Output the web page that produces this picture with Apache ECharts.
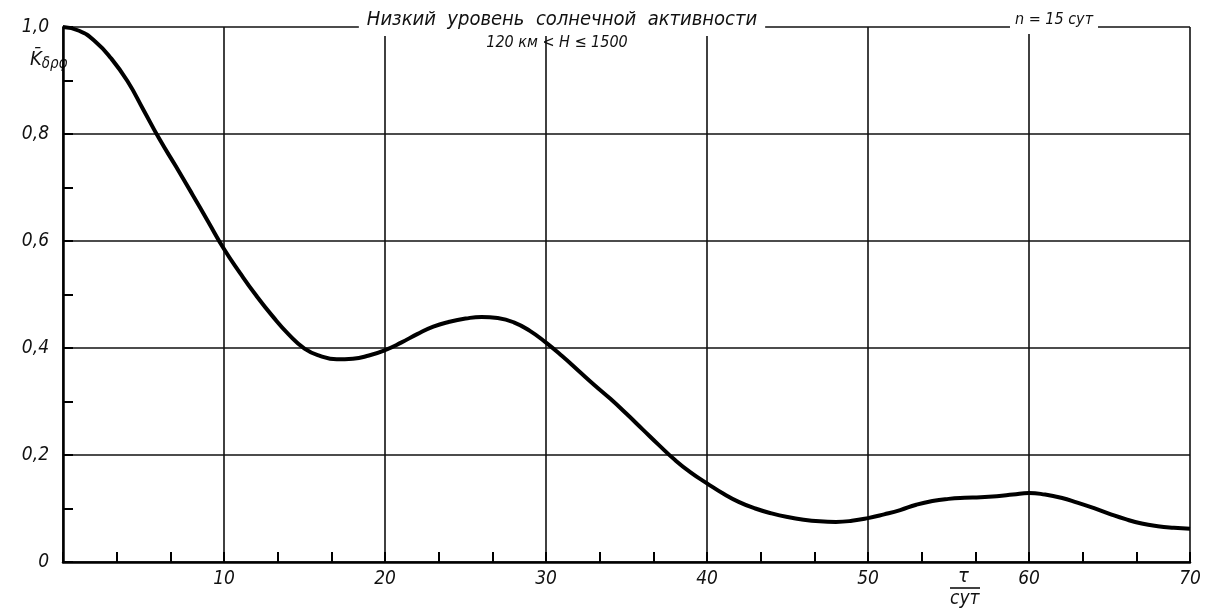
<!DOCTYPE html>
<html>
<head>
<meta charset="utf-8">
<script src="https://cdn.jsdelivr.net/npm/echarts@6/dist/echarts.min.js"></script>
<style>
  html, body { margin: 0; padding: 0; background: #fff; }
  #chart { width: 1206px; height: 615px; }
</style>
</head>
<body>
<div id="chart"></div>
<script>
  // tau, сут
  const tauDays = [0, 1, 2, 3, 4, 5, 6, 7, 8, 9, 10, 11, 12, 13, 14, 15, 16, 17, 18, 19, 20,
    21, 22, 23, 24, 25, 26, 27, 28, 29, 30, 31, 32, 33, 34, 35, 36, 37, 38, 39, 40,
    41, 42, 43, 44, 45, 46, 47, 48, 49, 50, 51, 52, 53, 54, 55, 56, 57, 58, 59, 60,
    61, 62, 63, 64, 65, 66, 67, 68, 69, 70]
  // K среднее
  const kValues = [1.0, 0.993, 0.973, 0.941, 0.899, 0.845, 0.79, 0.74, 0.689, 0.637, 0.585,
    0.54, 0.498, 0.46, 0.426, 0.399, 0.385, 0.379, 0.38, 0.386, 0.396,
    0.41, 0.426, 0.44, 0.449, 0.455, 0.458, 0.456, 0.448, 0.432, 0.41,
    0.385, 0.358, 0.331, 0.305, 0.277, 0.248, 0.219, 0.191, 0.167, 0.147,
    0.128, 0.112, 0.1, 0.091, 0.084, 0.079, 0.076, 0.075, 0.077, 0.082,
    0.089, 0.097, 0.107, 0.114, 0.118, 0.12, 0.121, 0.123, 0.126, 0.129,
    0.126, 0.12, 0.111, 0.101, 0.09, 0.08, 0.072, 0.067, 0.064, 0.062]
  const xTicks = [0, 70, 10]   // min, max, interval
  const yTicks = [0, 1.0, 0.2]

  const font = '"Liberation Sans Narrow", "DejaVu Sans Condensed", "Liberation Sans", sans-serif'
  const chart = echarts.init(document.getElementById('chart'))

  const option = {
    animation: false,
    backgroundColor: '#fff',
    grid: { left: 63, right: 16, top: 27, bottom: 53 },
    title: [
      {
        text: 'Низкий  уровень  солнечной  активности',
        left: 554, top: 7, textAlign: 'center',
        backgroundColor: '#fff', padding: [3, 8, 6, 8],
        textStyle: { fontFamily: font, fontStyle: 'italic', fontWeight: 'normal', fontSize: 20, color: '#111' }
      },
      {
        text: '120 км < H ≤ 1500',
        left: 557, top: 35, textAlign: 'center', padding: 0,
        textStyle: { fontFamily: font, fontStyle: 'italic', fontWeight: 'normal', fontSize: 16, color: '#111' }
      },
      {
        text: 'n = 15 сут',
        left: 1049, top: 9, textAlign: 'center',
        backgroundColor: '#fff', padding: [3, 5, 6, 5],
        textStyle: { fontFamily: font, fontStyle: 'italic', fontWeight: 'normal', fontSize: 16, color: '#111' }
      }
    ],
    xAxis: {
      type: 'value', min: xTicks[0], max: xTicks[1], interval: xTicks[2],
      axisLine: { show: true, onZero: false, lineStyle: { color: '#000', width: 2.5 } },
      axisTick: { show: true, inside: true, length: 10, lineStyle: { color: '#000', width: 2 } },
      minorTick: { show: true, splitNumber: 3, length: 10, lineStyle: { color: '#000', width: 2 } },
      splitLine: { show: true, lineStyle: { color: '#111', width: 1.6 } },
      axisLabel: {
        margin: 8, fontFamily: font, fontStyle: 'italic', fontSize: 19, color: '#111',
        formatter: v => (v === 0 ? '' : String(v))
      }
    },
    yAxis: {
      type: 'value', min: yTicks[0], max: yTicks[1], interval: yTicks[2],
      axisLine: { show: true, onZero: false, lineStyle: { color: '#000', width: 2.5 } },
      axisTick: { show: true, inside: true, length: 10, lineStyle: { color: '#000', width: 2 } },
      minorTick: { show: true, splitNumber: 2, length: 10, lineStyle: { color: '#000', width: 2 } },
      splitLine: { show: true, lineStyle: { color: '#111', width: 1.6 } },
      axisLabel: {
        margin: 14, fontFamily: font, fontStyle: 'italic', fontSize: 19, color: '#111',
        formatter: v => (v === 0 ? '0' : v.toFixed(1).replace('.', ','))
      }
    },
    graphic: [
      {
        type: 'text', left: 30, top: 50,
        style: {
          text: '{k|K̄}{s|δρφ}',
          rich: {
            k: { fontFamily: font, fontStyle: 'italic', fontSize: 20, fill: '#111' },
            s: { fontFamily: font, fontStyle: 'italic', fontSize: 15, fill: '#111', padding: [8, 0, 0, 0] }
          }
        }
      },
      { type: 'text', left: 958, top: 567, style: { text: 'τ', font: 'italic 20px ' + font, fill: '#111' } },
      { type: 'line', shape: { x1: 950, y1: 588, x2: 980, y2: 588 }, style: { stroke: '#111', lineWidth: 1.6 } },
      { type: 'text', left: 950, top: 590, style: { text: 'сут', font: 'italic 19px ' + font, fill: '#111' } }
    ],
    series: [{
      type: 'line',
      data: tauDays.map((t, i) => [t, kValues[i]]),
      smooth: 0.5,
      showSymbol: false,
      lineStyle: { color: '#000', width: 4 },
      z: 5
    }]
  }
  chart.setOption(option)
</script>
</body>
</html>
